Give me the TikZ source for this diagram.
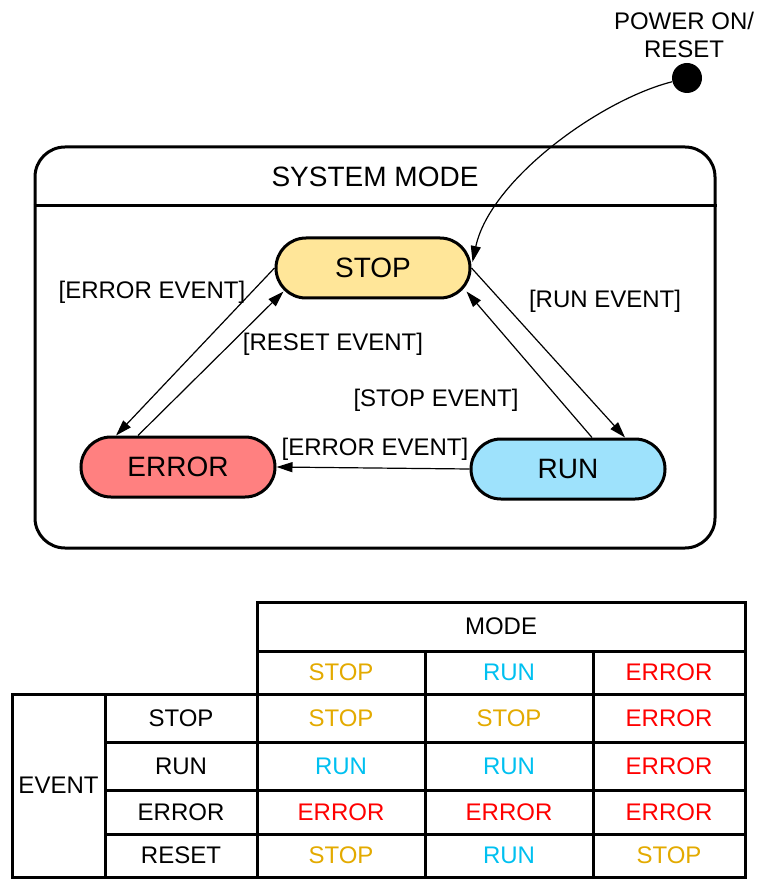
\documentclass[tikz,border=0pt]{standalone}
\usepackage{fontspec}
\setmainfont{Liberation Sans}
\usetikzlibrary{arrows.meta}
\usetikzlibrary{calc}

\definecolor{stopfill}{HTML}{FFE699}
\definecolor{runfill}{HTML}{9EE2FC}
\definecolor{errorfill}{HTML}{FF8080}
\definecolor{cSTOP}{HTML}{E3AA00}
\definecolor{cRUN}{HTML}{00C0F0}
\definecolor{cERROR}{HTML}{FF0000}

\begin{document}
\begin{tikzpicture}[x=0.5pt,y=-0.5pt,
      modestate/.style={rectangle,draw=black,line width=1.5pt,rounded corners=15pt,
        minimum width=97pt,minimum height=30pt,font=\fontsize{14}{16}\selectfont},
      event/.style={font=\fontsize{12}{14}\selectfont},
      trans/.style={line width=0.6pt,-{Triangle[length=8pt,width=5pt]}},
      tabline/.style={line width=1.5pt,line cap=rect},
      cell/.style={font=\fontsize{12}{14}\selectfont}]
\useasboundingbox (0,0) rectangle (768,887);

% state machine
\node (powertxt) [event,align=center] at (684,35) {\fontsize{12}{15}\selectfont POWER ON/\\RESET};
\node (power) [circle,fill=black,inner sep=0pt,minimum size=15pt] at (687,78) {};
\node (sysbox) [rectangle,draw=black,line width=1.5pt,rounded corners=15pt,
  minimum width=340pt,minimum height=200.5pt] at (375,347.5) {};
\node (systitle) [font=\fontsize{14}{16}\selectfont] at (375,177) {SYSTEM MODE};
\draw[line width=1.5pt] ($(sysbox.north west)+(0,60)$) -- ($(sysbox.north east)+(0,60)$);

\node (stop) [modestate,fill=stopfill] at (373,268) {STOP};
\node (error) [modestate,fill=errorfill] at (178,467) {ERROR};
\node (run) [modestate,fill=runfill] at (568,469) {RUN};

\draw[trans] (power) .. controls (600,100) and (490,180) .. ($(stop.east)+(1,-6)$);
\draw[trans] (stop.west) -- ($(error.north)+(-62,0)$);
\draw[trans] ($(error.north)+(-40,0)$) -- ($(stop.south west)+(9,-8)$);
\draw[trans] (stop.east) -- ($(run.north)+(57,0)$);
\draw[trans] ($(run.north)+(24,0)$) -- ($(stop.south east)+(-5,-8)$);
\draw[trans] (run.west) -- (error.east);

\node (lerr1) [event] at (152,292) {[ERROR EVENT]};
\node (lreset) [event] at (333,344) {[RESET EVENT]};
\node (lrun) [event] at (605,301) {[RUN EVENT]};
\node (lstop) [event] at (436,400) {[STOP EVENT]};
\node (lerr2) [event] at (375,449) {[ERROR EVENT]};

% transition table
\draw[tabline] (257,602) -- (745,602);
\draw[tabline] (257,651) -- (745,651);
\draw[tabline] (12,694) -- (745,694);
\foreach \y in {742,790,834}
  \draw[tabline] (105,\y) -- (745,\y);
\draw[tabline] (12,877) -- (745,877);
\draw[tabline] (12,694) -- (12,877);
\draw[tabline] (105,694) -- (105,877);
\draw[tabline] (257,602) -- (257,877);
\foreach \x in {425,593}
  \draw[tabline] (\x,651) -- (\x,877);
\draw[tabline] (745,602) -- (745,877);

\node (hmode) [cell] at (501,626.5) {MODE};
\node (hevent) [cell] at (58.5,785.5) {EVENT};
\foreach \x/\m in {341/STOP,509/RUN,669/ERROR}
  \node (h-\m) [cell,text=c\m] at (\x,672.5) {\m};
\foreach \y/\ev/\a/\b/\c in {718/STOP/STOP/STOP/ERROR,766/RUN/RUN/RUN/ERROR,
    812/ERROR/ERROR/ERROR/ERROR,855.5/RESET/STOP/RUN/STOP} {
  \node (ev-\ev) [cell] at (181,\y) {\ev};
  \node (c-\ev-1) [cell,text=c\a] at (341,\y) {\a};
  \node (c-\ev-2) [cell,text=c\b] at (509,\y) {\b};
  \node (c-\ev-3) [cell,text=c\c] at (669,\y) {\c};
}
\end{tikzpicture}
\end{document}
